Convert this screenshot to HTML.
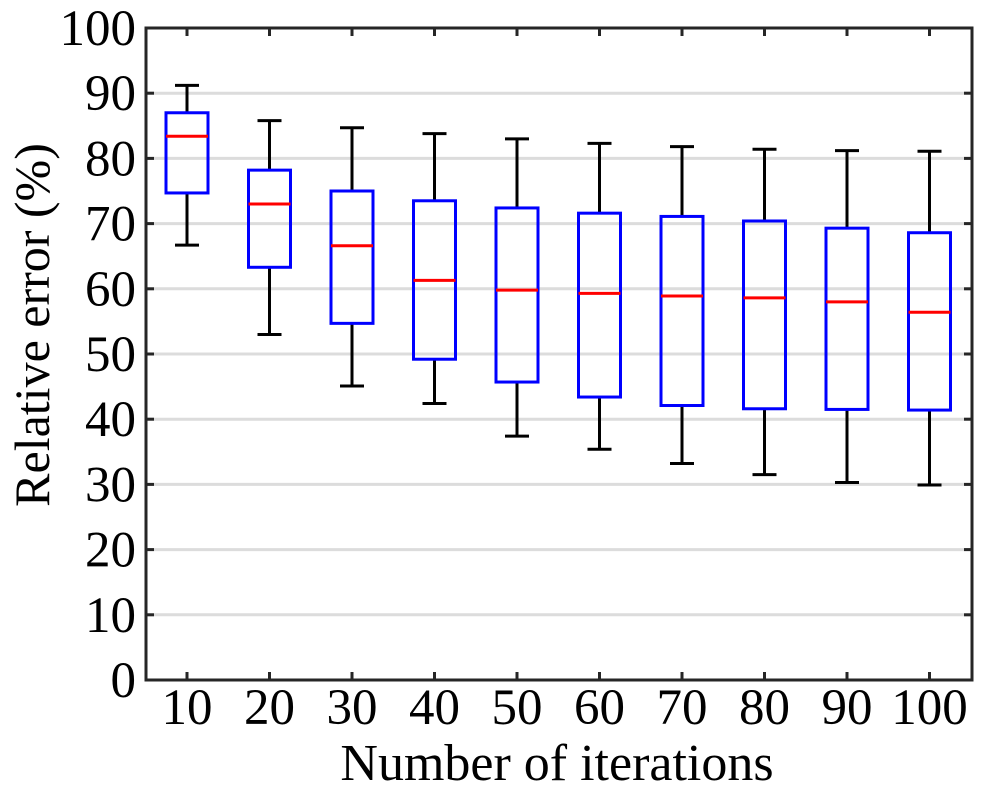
<!DOCTYPE html>
<html><head><meta charset="utf-8"><style>
html,body{margin:0;padding:0;background:#fff;}
svg{display:block;}
text{font-family:"Liberation Serif",serif;fill:#000;}
</style></head><body>
<svg id="s" width="984" height="792" viewBox="0 0 984 792" xmlns="http://www.w3.org/2000/svg"></svg>
<script>
const s=document.getElementById('s');
const L=146,R=972,T=28,B=680;
const Y=v=>B-6.52*v;
let h='';
for(let v=10;v<100;v+=10){h+=`<line x1="${L}" x2="${R}" y1="${Y(v)}" y2="${Y(v)}" stroke="#dcdcdc" stroke-width="3"/>`;}
const d=[[91.2,87.0,83.4,74.7,66.7],[85.8,78.2,73.0,63.3,53.0],[84.7,75.0,66.6,54.7,45.1],[83.8,73.5,61.3,49.2,42.4],[83.0,72.4,59.8,45.7,37.4],[82.3,71.6,59.3,43.4,35.4],[81.8,71.1,58.9,42.1,33.2],[81.4,70.4,58.6,41.6,31.5],[81.2,69.3,58.0,41.5,30.3],[81.1,68.6,56.4,41.4,29.9]];
d.forEach((r,i)=>{const x=187+82.5*i;
h+=`<line x1="${x}" x2="${x}" y1="${Y(r[0])}" y2="${Y(r[1])}" stroke="#000" stroke-width="3"/>`;
h+=`<line x1="${x}" x2="${x}" y1="${Y(r[3])}" y2="${Y(r[4])}" stroke="#000" stroke-width="3"/>`;
h+=`<line x1="${x-12}" x2="${x+12}" y1="${Y(r[0])}" y2="${Y(r[0])}" stroke="#000" stroke-width="3"/>`;
h+=`<line x1="${x-12}" x2="${x+12}" y1="${Y(r[4])}" y2="${Y(r[4])}" stroke="#000" stroke-width="3"/>`;
h+=`<rect x="${x-21}" y="${Y(r[1])}" width="42" height="${Y(r[3])-Y(r[1])}" fill="none" stroke="#0000ff" stroke-width="3"/>`;
h+=`<line x1="${x-21}" x2="${x+21}" y1="${Y(r[2])}" y2="${Y(r[2])}" stroke="#ff0000" stroke-width="3"/>`;
h+=`<line x1="${x}" x2="${x}" y1="${B}" y2="${B-8}" stroke="#262626" stroke-width="3"/>`;
h+=`<line x1="${x}" x2="${x}" y1="${T}" y2="${T+8}" stroke="#262626" stroke-width="3"/>`;
h+=`<text x="${x}" y="724" font-size="51" text-anchor="middle">${(i+1)*10}</text>`;
});
for(let v=0;v<=100;v+=10){const y=Y(v);
h+=`<line x1="${L}" x2="${L+8}" y1="${y}" y2="${y}" stroke="#262626" stroke-width="3"/>`;
h+=`<line x1="${R-8}" x2="${R}" y1="${y}" y2="${y}" stroke="#262626" stroke-width="3"/>`;
h+=`<text x="136" y="${y+17}" font-size="51" text-anchor="end">${v}</text>`;}
h+=`<rect x="${L}" y="${T}" width="${R-L}" height="${B-T}" fill="none" stroke="#262626" stroke-width="3"/>`;
h+=`<text x="557" y="780" font-size="52" text-anchor="middle">Number of iterations</text>`;
h+=`<text transform="translate(49,325) rotate(-90)" font-size="50" text-anchor="middle">Relative error (%)</text>`;
s.innerHTML=h;
</script>
</body></html>
